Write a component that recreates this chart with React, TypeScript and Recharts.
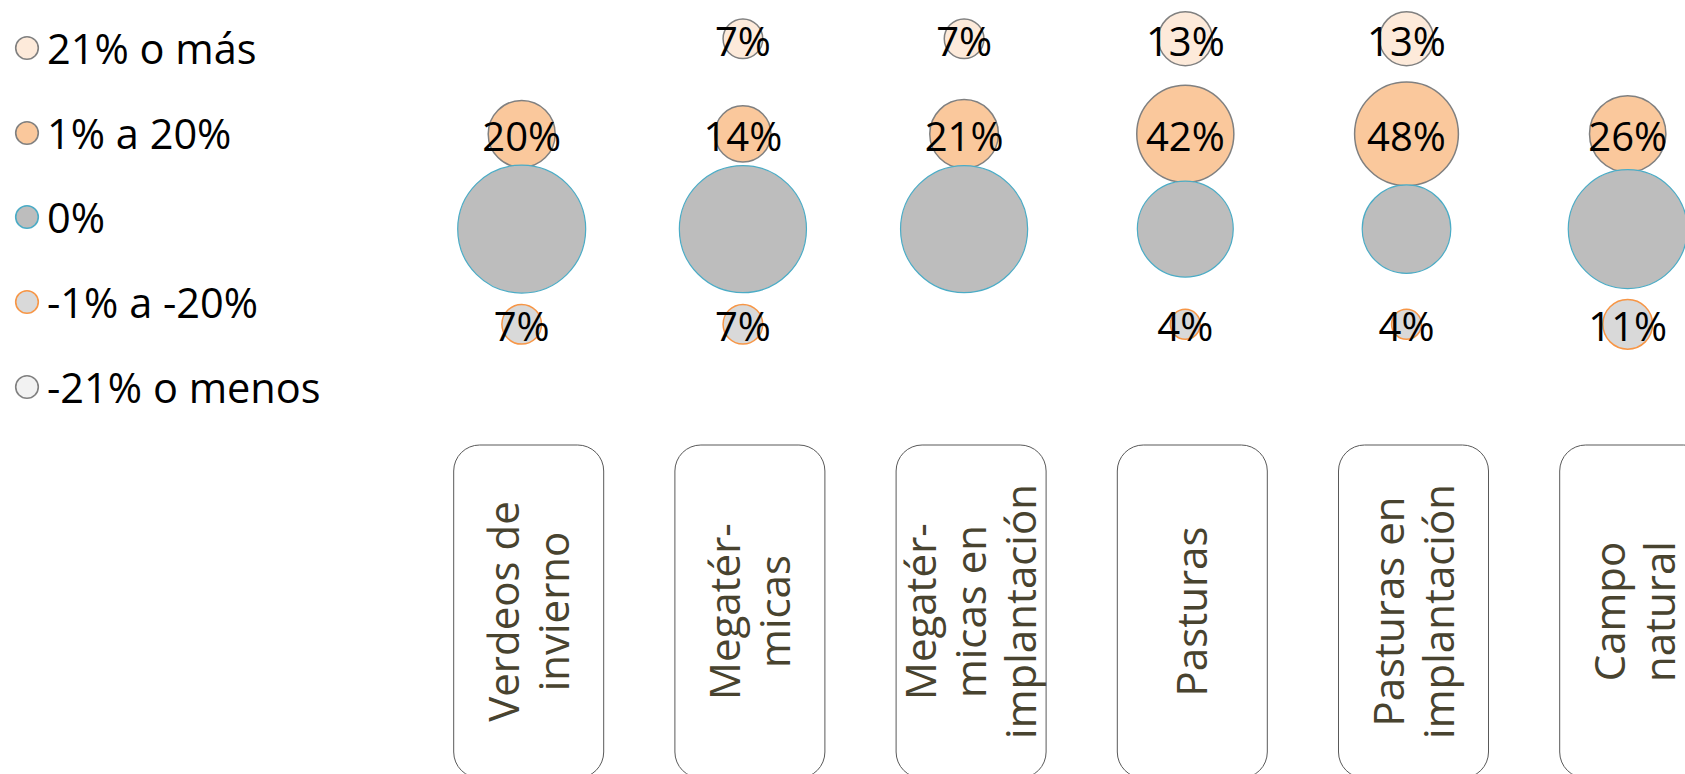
import React from 'react';
import { ScatterChart, Scatter, XAxis, YAxis, ZAxis, Legend } from 'recharts';

// ---- data ----
const CATEGORY_LINES: string[][] = [
  ['Verdeos de', 'invierno'],
  ['Megatér-', 'micas'],
  ['Megatér-', 'micas en', 'implantación'],
  ['Pasturas'],
  ['Pasturas en', 'implantación'],
  ['Campo', 'natural'],
];
const CATEGORY_INDEX = [0, 1, 2, 3, 4, 5];

const LEVELS = ['21% o más', '1% a 20%', '0%', '-1% a -20%', '-21% o menos'];
const LEVEL_ROWS = [4, 3, 2, 1, 0];

const MAS_21: (number | null)[] = [null, 7, 7, 13, 13, null];
const DE_1_A_20: (number | null)[] = [20, 14, 21, 42, 48, 26];
const CERO: (number | null)[] = [73, 72, 72, 41, 35, 63];
const DE_M1_A_M20: (number | null)[] = [7, 7, null, 4, 4, 11];
const MENOS_21: (number | null)[] = [null, null, null, null, null, null];
const SERIES_VALUES = [MAS_21, DE_1_A_20, CERO, DE_M1_A_M20, MENOS_21];
const SHOW_LABEL = [true, true, false, true, true];

// ---- styles ----
const FONT = '"Open Sans", sans-serif';
const LEVEL_FILL = ['#FDEADA', '#FAC89C', '#BDBDBD', '#D9D9D9', '#F2F2F2'];
const LEVEL_STROKE = ['#808080', '#808080', '#4BACC6', '#F79646', '#808080'];
const LEVEL_STROKE_W = [1.5, 1.5, 1.2, 1.5, 1.5];
const Z_MAX_AREA = Math.PI * 7.49 * 7.49 * 100;

const seriesData = SERIES_VALUES.map((vals, li) =>
  vals
    .map((v, i) => (v == null ? null : { x: CATEGORY_INDEX[i], y: LEVEL_ROWS[li], v }))
    .filter((d) => d != null)
);

const makeShape = (li: number) => (props: any) => {
  const { cx, cy, payload } = props;
  const size = props.size;
  const r = size != null ? Math.sqrt(size / Math.PI) : (props.width || 0) / 2;
  return (
    <g>
      <circle
        cx={cx}
        cy={cy}
        r={r}
        fill={LEVEL_FILL[li]}
        stroke={LEVEL_STROKE[li]}
        strokeWidth={LEVEL_STROKE_W[li]}
      />
      {SHOW_LABEL[li] && (
        <text
          x={cx}
          y={cy}
          dy="0.42em"
          textAnchor="middle"
          fontFamily={FONT}
          fontSize={40}
          fill="#000"
        >
          {`${payload.v}%`}
        </text>
      )}
    </g>
  );
};

const CategoryTick = (props: any) => {
  const { x, y, payload } = props;
  const lines = CATEGORY_LINES[payload.value] || [];
  const cx = x + 7;
  const top = y + 25.5;
  const w = 150;
  const h = 333;
  const midY = top + h / 2;
  return (
    <g>
      <rect
        x={cx - w / 2}
        y={top}
        width={w}
        height={h}
        rx={26}
        ry={26}
        fill="#fff"
        stroke="#595959"
        strokeWidth={1}
      />
      <text
        transform={`rotate(-90 ${cx} ${midY})`}
        x={cx}
        y={midY}
        textAnchor="middle"
        fontFamily={FONT}
        fontSize={42}
        fill="#48432F"
      >
        {lines.map((l, i) => (
          <tspan key={i} x={cx} y={midY + (i - (lines.length - 1) / 2) * 50} dy="0.36em">
            {l}
          </tspan>
        ))}
      </text>
    </g>
  );
};

const renderLegend = (props: any) => {
  const payload = [...(props.payload || [])].sort(
    (a: any, b: any) => LEVELS.indexOf(a.value) - LEVELS.indexOf(b.value)
  );
  return (
    <div style={{ fontFamily: FONT, fontSize: 41.5, color: '#000' }}>
      {payload.map((entry: any) => {
        const li = LEVELS.indexOf(entry.value);
        return (
          <div
            key={entry.value}
            style={{ height: 84.75, display: 'flex', alignItems: 'center', whiteSpace: 'nowrap' }}
          >
            <svg width={47} height={30} style={{ flex: 'none' }}>
              <circle
                cx={27}
                cy={15}
                r={11.3}
                fill={LEVEL_FILL[li]}
                stroke={LEVEL_STROKE[li]}
                strokeWidth={1.6}
              />
            </svg>
            <span>{entry.value}</span>
          </div>
        );
      })}
    </div>
  );
};

export default function App() {
  return (
    <div
      style={{
        position: 'fixed',
        left: 0,
        top: 0,
        width: 1685,
        height: 774,
        overflow: 'hidden',
        background: '#fff',
      }}
    >
      <ScatterChart
        width={1760}
        height={774}
        margin={{ top: 38.7, right: 21.7, bottom: 0, left: 411.1 }}
      >
        <XAxis
          type="number"
          dataKey="x"
          domain={[-0.5, 5.5]}
          ticks={CATEGORY_INDEX}
          interval={0}
          tick={<CategoryTick />}
          tickLine={false}
          axisLine={false}
          tickSize={0}
          tickMargin={0}
          height={354.5}
        />
        <YAxis type="number" dataKey="y" domain={[0, 4]} hide />
        <ZAxis type="number" dataKey="v" domain={[0, 100]} range={[0, Z_MAX_AREA]} />
        <Legend
          layout="vertical"
          align="center"
          verticalAlign="middle"
          content={renderLegend}
          wrapperStyle={{ left: 0, top: 5.6, width: 400, margin: 0 }}
        />
        {LEVELS.map((name, li) => (
          <Scatter
            key={name}
            name={name}
            data={seriesData[li]}
            fill={LEVEL_FILL[li]}
            stroke={LEVEL_STROKE[li]}
            shape={makeShape(li)}
            isAnimationActive={false}
          />
        ))}
      </ScatterChart>
    </div>
  );
}
